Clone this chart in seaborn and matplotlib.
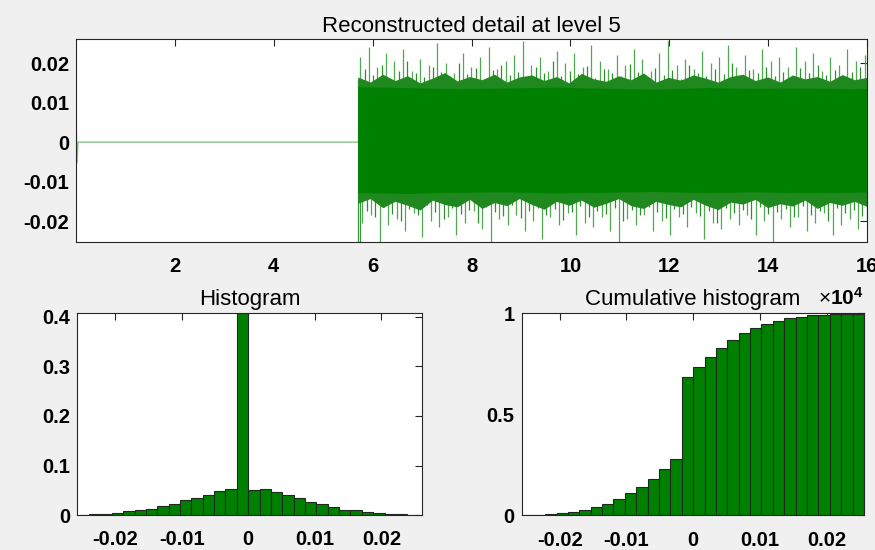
import numpy as np
import pandas as pd
import matplotlib
matplotlib.use("Agg")
import matplotlib.pyplot as plt
import seaborn as sns

# ---------------- data ----------------
# top: reconstructed detail signal (envelope description of a dense noisy signal)
quiet_x = [0.0, 0.02, 0.04, 5.70]
quiet_y = [0.0075, -0.0053, 0.0, 0.0]

band_x = [5.70, 6.7, 7.7, 8.7, 9.7, 10.7, 11.7, 12.7, 13.7, 14.7, 15.7, 16.0]
band_hi = [0.0140, 0.0138, 0.0135, 0.0137, 0.0139, 0.0136, 0.0134, 0.0138, 0.0136, 0.0137, 0.0135, 0.0136]
band_lo = [-0.0128, -0.0130, -0.0127, -0.0126, -0.0129, -0.0127, -0.0125, -0.0128, -0.0126, -0.0128, -0.0127, -0.0126]

fringe_hi = [0.0165, 0.0152, 0.0172, 0.0156, 0.0168, 0.0150, 0.0162, 0.0176, 0.0155, 0.0166,
             0.0158, 0.0172, 0.0152, 0.0165, 0.0170, 0.0156, 0.0166, 0.0150, 0.0174, 0.0160,
             0.0154, 0.0168, 0.0158, 0.0175, 0.0152, 0.0164, 0.0157, 0.0170, 0.0162, 0.0152,
             0.0166, 0.0172, 0.0156, 0.0165, 0.0152, 0.0170, 0.0160, 0.0166, 0.0154, 0.0171,
             0.0158, 0.0164]
fringe_lo = [-0.0155, -0.0143, -0.0166, -0.0150, -0.0160, -0.0172, -0.0147, -0.0158, -0.0164, -0.0145,
             -0.0168, -0.0153, -0.0161, -0.0143, -0.0158, -0.0170, -0.0150, -0.0160, -0.0147, -0.0165,
             -0.0155, -0.0143, -0.0161, -0.0168, -0.0150, -0.0158, -0.0164, -0.0145, -0.0160, -0.0171,
             -0.0152, -0.0157, -0.0145, -0.0166, -0.0156, -0.0162, -0.0147, -0.0168, -0.0153, -0.0160,
             -0.0150, -0.0163]

spike_hi = [0.0215, 0.024, 0.019, 0.0225, 0.0205, 0.0235, 0.018, 0.021, 0.0195, 0.025,
            0.020, 0.0175, 0.0225, 0.019, 0.0215, 0.024, 0.0185, 0.0205, 0.022, 0.0255,
            0.0195, 0.0215, 0.018, 0.023, 0.020, 0.0225, 0.019, 0.0245, 0.0205, 0.0185,
            0.022, 0.0195, 0.0235, 0.021, 0.018, 0.0225, 0.0255, 0.0195, 0.021, 0.0185,
            0.023, 0.020, 0.0215, 0.0245, 0.019, 0.022, 0.0185, 0.0235, 0.0205, 0.0215,
            0.019, 0.024, 0.0205, 0.0225, 0.018, 0.0215, 0.0195, 0.0235, 0.0205, 0.022]
spike_lo = [-0.0205, -0.0185, -0.026, -0.021, -0.0195, -0.0225, -0.018, -0.024, -0.020, -0.0215,
            -0.019, -0.0235, -0.0205, -0.0175, -0.022, -0.026, -0.0195, -0.021, -0.0185, -0.0225,
            -0.020, -0.0245, -0.019, -0.021, -0.018, -0.0235, -0.0205, -0.0215, -0.019, -0.0225,
            -0.0255, -0.0195, -0.021, -0.0185, -0.0225, -0.020, -0.0235, -0.019, -0.0215, -0.018,
            -0.0245, -0.0205, -0.022, -0.0195, -0.021, -0.0185, -0.0235, -0.020, -0.0255, -0.0195,
            -0.0215, -0.019, -0.0225, -0.0205, -0.018, -0.0235, -0.021, -0.0195, -0.022, -0.020]
minor_hi = [0.0185, 0.017, 0.0195, 0.016, 0.018, 0.0205, 0.0175, 0.0165, 0.019, 0.0178,
            0.0168, 0.020, 0.0172, 0.0188, 0.016, 0.0182, 0.0195, 0.017, 0.0178, 0.0165,
            0.019, 0.0175, 0.0205, 0.0168, 0.018, 0.0172, 0.0192, 0.0162, 0.0185, 0.0175,
            0.0168, 0.0198, 0.0178, 0.0165, 0.0188, 0.017, 0.0182, 0.016, 0.0195, 0.0175,
            0.0168, 0.0185, 0.0172, 0.020, 0.0165, 0.0182, 0.0175, 0.019, 0.0168, 0.0178,
            0.0162, 0.0188, 0.0175, 0.0195, 0.017, 0.0182, 0.0165, 0.0178, 0.019, 0.0172]
minor_lo = [-0.0175, -0.019, -0.0165, -0.0182, -0.020, -0.017, -0.0185, -0.016, -0.0178, -0.0195,
            -0.0168, -0.0182, -0.0172, -0.0205, -0.0165, -0.0178, -0.0188, -0.016, -0.0192, -0.0175,
            -0.0168, -0.0185, -0.017, -0.0198, -0.0178, -0.0162, -0.019, -0.0175, -0.0182, -0.0168,
            -0.020, -0.0172, -0.0185, -0.0165, -0.0178, -0.0192, -0.017, -0.0182, -0.0165, -0.0188,
            -0.0175, -0.0205, -0.0168, -0.018, -0.0172, -0.0195, -0.0165, -0.0182, -0.0178, -0.017,
            -0.019, -0.0162, -0.0185, -0.0175, -0.020, -0.0168, -0.018, -0.0172, -0.0188, -0.0165]

# bottom: histogram (relative frequency) and cumulative histogram (x 10^4)
hist_vals = [0.001, 0.002, 0.003, 0.005, 0.008, 0.011, 0.013, 0.0175, 0.023, 0.030,
             0.034, 0.041, 0.048, 0.053, 0.408, 0.051, 0.052, 0.047, 0.040, 0.034,
             0.027, 0.022, 0.017, 0.011, 0.0094, 0.0067, 0.0047, 0.0027, 0.0013, 0.0007]
cum_vals = [0.0015, 0.003, 0.005, 0.010, 0.018, 0.026, 0.040, 0.056, 0.079, 0.109,
            0.139, 0.180, 0.228, 0.279, 0.683, 0.733, 0.784, 0.830, 0.868, 0.901,
            0.926, 0.947, 0.964, 0.975, 0.983, 0.990, 0.993, 0.997, 0.998, 0.9985]

top_xticks = [2, 4, 6, 8, 10, 12, 14, 16]
top_yticks = [-0.02, -0.01, 0, 0.01, 0.02]
bot_xticks = [-0.02, -0.01, 0, 0.01, 0.02]
hist_yticks = [0, 0.1, 0.2, 0.3, 0.4]
cum_yticks = [0, 0.5, 1]

# ---------------- style ----------------
sns.set_theme(style="white")
plt.rcParams["font.family"] = ["Liberation Sans", "DejaVu Sans"]
plt.rcParams["axes.unicode_minus"] = False
plt.rcParams["mathtext.fontset"] = "custom"
plt.rcParams["mathtext.rm"] = "Liberation Sans"
plt.rcParams["mathtext.bf"] = "Liberation Sans:bold"

GREEN = "#008000"
SPINE = "#262626"
BG = "#f0f0f0"

fig = plt.figure(figsize=(8.75, 5.5), dpi=100, facecolor=BG)
ax_top = fig.add_axes([0.0869, 0.560, 0.9040, 0.369])
ax_h = fig.add_axes([0.0880, 0.0636, 0.3943, 0.3673])
ax_c = fig.add_axes([0.5962, 0.0631, 0.3912, 0.3673])


def style_axes(ax, xticks, yticks, xfmt, yfmt):
    ax.set_facecolor("white")
    for s in ax.spines.values():
        s.set_visible(True)
        s.set_color(SPINE)
        s.set_linewidth(0.8)
        s.set_zorder(10)
    ax.set_xticks(xticks)
    ax.set_yticks(yticks)
    ax.set_xticklabels([xfmt(v) for v in xticks])
    ax.set_yticklabels([yfmt(v) for v in yticks])
    ax.tick_params(axis="both", direction="in", length=5, width=0.8, color=SPINE,
                   top=True, right=True, labelsize=14.5, labelcolor="black")
    ax.tick_params(axis="x", pad=11)
    ax.tick_params(axis="y", pad=5)
    for lab in ax.get_xticklabels() + ax.get_yticklabels():
        lab.set_fontweight("bold")
    ax.set_xlabel("")
    ax.set_ylabel("")


def fmt(v):
    return "0" if v == 0 else ("%g" % v)


# ---------------- top panel ----------------
step = 10.2 / (len(spike_hi) - 1)
spike_x = np.linspace(5.75, 15.95, len(spike_hi))
fringe_x = np.linspace(5.70, 16.0, len(fringe_hi))

ax_top.plot(quiet_x, quiet_y, color="#86c486", lw=1.0, zorder=1)
ax_top.vlines(spike_x, 0, spike_hi, color="#52a852", lw=0.9, zorder=1)
ax_top.vlines(spike_x + step * 0.5, 0, minor_hi, color="#2f8f2f", lw=0.9, zorder=1)
ax_top.vlines(spike_x + step * 0.25, 0, spike_lo, color="#52a852", lw=0.9, zorder=1)
ax_top.vlines(spike_x + step * 0.75, 0, minor_lo, color="#2f8f2f", lw=0.9, zorder=1)
ax_top.fill_between(fringe_x, fringe_lo, fringe_hi, color="#1f881f", lw=0, zorder=2)
ax_top.fill_between(band_x, band_lo, band_hi, color=GREEN, lw=0, zorder=3)
ax_top.vlines([5.70, 5.74], [-0.026, -0.026], [0.016, 0.015], color="#3a9a3a", lw=0.9, zorder=1)
ax_top.set_xlim(0, 16)
ax_top.set_ylim(-0.0253, 0.0261)
style_axes(ax_top, top_xticks, top_yticks, fmt, fmt)
ax_top.set_title("Reconstructed detail at level 5", fontsize=16, pad=5, color="black")

# ---------------- histogram ----------------
edges = np.linspace(-0.0256, 0.0256, len(hist_vals) + 1)
centers = (edges[:-1] + edges[1:]) / 2
df = pd.DataFrame({"center": centers, "hist": hist_vals, "cum": cum_vals})

sns.histplot(data=df, x="center", weights="hist", bins=list(edges), ax=ax_h, color=GREEN,
             edgecolor="#1e2a1e", linewidth=0.8, alpha=1.0)
ax_h.set_xlim(-0.0257, 0.0261)
ax_h.set_ylim(0, 0.408)
style_axes(ax_h, bot_xticks, hist_yticks, fmt, fmt)
ax_h.set_title("Histogram", fontsize=16, pad=6, color="black")

# ---------------- cumulative histogram ----------------
sns.histplot(data=df, x="center", weights="cum", bins=list(edges), ax=ax_c, color=GREEN,
             edgecolor="#1e2a1e", linewidth=0.8, alpha=1.0)
ax_c.set_xlim(-0.0257, 0.0256)
ax_c.set_ylim(0, 1.0)
style_axes(ax_c, bot_xticks, cum_yticks, fmt, fmt)
ax_c.set_title("Cumulative histogram", fontsize=16, pad=6, color="black")
ax_c.text(1.0, 1.02, r"$\times\mathbf{10^{4}}$", transform=ax_c.transAxes,
          ha="right", va="bottom", fontsize=15, color="black")

fig.savefig("out.png", dpi=100, facecolor=BG)
